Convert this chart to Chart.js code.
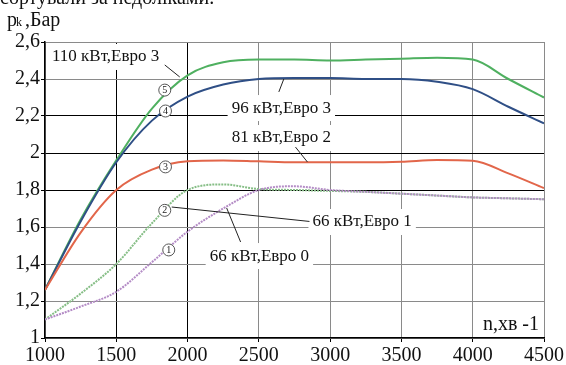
<!DOCTYPE html>
<html>
<head>
<meta charset="utf-8">
<script src="https://cdn.jsdelivr.net/npm/chart.js@4/dist/chart.umd.min.js"></script>
<style>
  html, body { margin: 0; padding: 0; background: #fff; }
  canvas { display: block; }
</style>
</head>
<body>
<canvas id="boostChart" width="566" height="365"></canvas>
<script>
// Boost pressure p_k vs engine speed n for five engine variants

const rpm = [1000, 1250, 1500, 1750, 2000, 2250, 2500, 2750, 3000, 3250, 3500, 3750, 4000, 4250, 4500];

const pk110e3 = [1.26, 1.64, 1.96, 2.24, 2.42, 2.49, 2.505, 2.505, 2.50, 2.505, 2.51, 2.515, 2.505, 2.40, 2.30];
const pk96e3  = [1.26, 1.63, 1.95, 2.175, 2.305, 2.37, 2.40, 2.405, 2.405, 2.40, 2.40, 2.385, 2.345, 2.25, 2.16];
const pk81e2  = [1.26, 1.57, 1.80, 1.91, 1.955, 1.96, 1.955, 1.95, 1.95, 1.95, 1.953, 1.962, 1.958, 1.89, 1.81];
const pk66e1  = [1.10, 1.24, 1.40, 1.62, 1.80, 1.83, 1.805, 1.80, 1.795, 1.79, 1.78, 1.77, 1.76, 1.755, 1.75];
const pk66e0  = [1.10, 1.17, 1.25, 1.41, 1.575, 1.70, 1.80, 1.82, 1.80, 1.79, 1.78, 1.77, 1.76, 1.755, 1.75];

const seriesNames = ['110 кВт,Евро 3', '96 кВт,Евро 3', '81 кВт,Евро 2', '66 кВт,Евро 1', '66 кВт,Евро 0'];

// circled curve numbers, sitting on the curves
const markerRpm  = [1840, 1845, 1845, 1840, 1868];
const markerPk   = [2.34, 2.227, 1.925, 1.69, 1.476];
const markerText = ['5', '4', '3', '2', '1'];

const xTickLabels = ['1000', '1500', '2000', '2500', '3000', '3500', '4000', '4500'];
const yTickLabels = ['1', '1,2', '1,4', '1,6', '1,8', '2', '2,2', '2,4', '2,6'];

const serif = '"Liberation Serif", "DejaVu Serif", serif';

// labels: left/middle anchor in data units, plus leader line in data units
const notes = [
  { text: seriesNames[0], x: 1049, y: 2.519, lead: [[1840, 2.476], [1945, 2.411]] },
  { text: seriesNames[1], x: 2309, y: 2.243, lead: [[2640, 2.33], [2675, 2.40]] },
  { text: seriesNames[2], x: 2309, y: 2.081, lead: [[2757, 2.032], [2841, 1.951]] },
  { text: seriesNames[3], x: 2876, y: 1.627, lead: [[1889, 1.708], [2855, 1.630]] },
  { text: seriesNames[4], x: 2155, y: 1.443, lead: [[2372, 1.519], [2274, 1.703]] }
];

function toPoints(ys) {
  return rpm.map((n, i) => ({ x: n, y: ys[i] }));
}

function makeLine(label, ys, color, dashed) {
  return {
    label: label,
    data: toPoints(ys),
    borderColor: color,
    borderWidth: 2,
    borderDash: dashed ? [2, 1] : [],
    pointRadius: 0,
    fill: false,
    cubicInterpolationMode: 'monotone'
  };
}

const notesPlugin = {
  id: 'notes',
  beforeDatasetsDraw(chart) {
    const { ctx, scales: { x, y } } = chart;
    ctx.save();
    ctx.font = '17px ' + serif;
    notes.forEach(n => {
      const px = x.getPixelForValue(n.x);
      const py = y.getPixelForValue(n.y);
      const w = ctx.measureText(n.text).width;
      ctx.fillStyle = '#fff';
      ctx.fillRect(px - 4, py - 13, w + 8, 26);
    });
    ctx.restore();
  },
  afterDatasetsDraw(chart) {
    const { ctx, scales: { x, y } } = chart;
    ctx.save();
    // leader lines
    ctx.strokeStyle = '#222';
    ctx.lineWidth = 1;
    notes.forEach(n => {
      ctx.beginPath();
      ctx.moveTo(x.getPixelForValue(n.lead[0][0]), y.getPixelForValue(n.lead[0][1]));
      ctx.lineTo(x.getPixelForValue(n.lead[1][0]), y.getPixelForValue(n.lead[1][1]));
      ctx.stroke();
    });
    // label texts
    ctx.fillStyle = '#111';
    ctx.font = '17px ' + serif;
    ctx.textBaseline = 'middle';
    ctx.textAlign = 'left';
    notes.forEach(n => {
      ctx.fillText(n.text, x.getPixelForValue(n.x), y.getPixelForValue(n.y));
    });
    // circled numbers
    markerText.forEach((t, i) => {
      const px = x.getPixelForValue(markerRpm[i]);
      const py = y.getPixelForValue(markerPk[i]);
      ctx.beginPath();
      ctx.arc(px, py, 6, 0, Math.PI * 2);
      ctx.fillStyle = '#fff';
      ctx.fill();
      ctx.strokeStyle = '#555';
      ctx.lineWidth = 1;
      ctx.stroke();
      ctx.fillStyle = '#222';
      ctx.font = '10px ' + serif;
      ctx.textAlign = 'center';
      ctx.fillText(t, px, py + 0.5);
    });
    ctx.restore();
  },
  afterDraw(chart) {
    const { ctx, chartArea } = chart;
    ctx.save();
    ctx.fillStyle = '#111';
    ctx.textBaseline = 'alphabetic';
    // cut-off line of the page text above the figure
    ctx.font = '20px ' + serif;
    ctx.fillText('сортували за недоліками.', 0, 4);
    // axis titles
    ctx.font = '20px ' + serif;
    ctx.fillText('p', 7, 26);
    ctx.font = '12px ' + serif;
    ctx.fillText('k', 16, 26);
    ctx.font = '20px ' + serif;
    ctx.fillText(' ,Бар', 20, 26);
    ctx.textAlign = 'right';
    ctx.fillText('n,хв -1', chartArea.right - 5, 330);
    ctx.restore();
  }
};

const ctx = document.getElementById('boostChart').getContext('2d');
new Chart(ctx, {
  type: 'line',
  data: {
    datasets: [
      makeLine(seriesNames[4], pk66e0, '#b48cc6', true),
      makeLine(seriesNames[3], pk66e1, '#86be86', true),
      makeLine(seriesNames[2], pk81e2, '#e2664a', false),
      makeLine(seriesNames[1], pk96e3, '#2f4f86', false),
      makeLine(seriesNames[0], pk110e3, '#4fb060', false)
    ]
  },
  options: {
    responsive: false,
    animation: false,
    layout: { padding: { top: 42, right: 21, left: 0, bottom: 0 } },
    plugins: {
      legend: { display: false },
      tooltip: { enabled: false }
    },
    scales: {
      x: {
        type: 'linear',
        min: 1000,
        max: 4500,
        afterFit: s => { s.height = 27; },
        ticks: {
          stepSize: 500,
          padding: 2,
          color: '#111',
          font: { family: serif, size: 20 },
          maxRotation: 0,
          callback: (v, i) => xTickLabels[i]
        },
        grid: {
          color: c => (c.index === 1 || c.index === 2) ? '#000' : '#8a8a8a',
          lineWidth: 1,
          tickLength: 4,
          tickColor: '#000'
        },
        border: { color: '#000', width: 1.5 }
      },
      y: {
        min: 1,
        max: 2.6,
        afterFit: s => { s.width = 45; },
        ticks: {
          stepSize: 0.2,
          padding: 1,
          color: '#111',
          font: { family: serif, size: 20 },
          callback: (v, i) => yTickLabels[i]
        },
        grid: {
          color: c => (c.index >= 4 && c.index <= 6) ? '#000' : '#8a8a8a',
          lineWidth: 1,
          tickLength: 4,
          tickColor: '#000'
        },
        border: { color: '#000', width: 1.5 }
      }
    }
  },
  plugins: [notesPlugin]
});
</script>
</body>
</html>
